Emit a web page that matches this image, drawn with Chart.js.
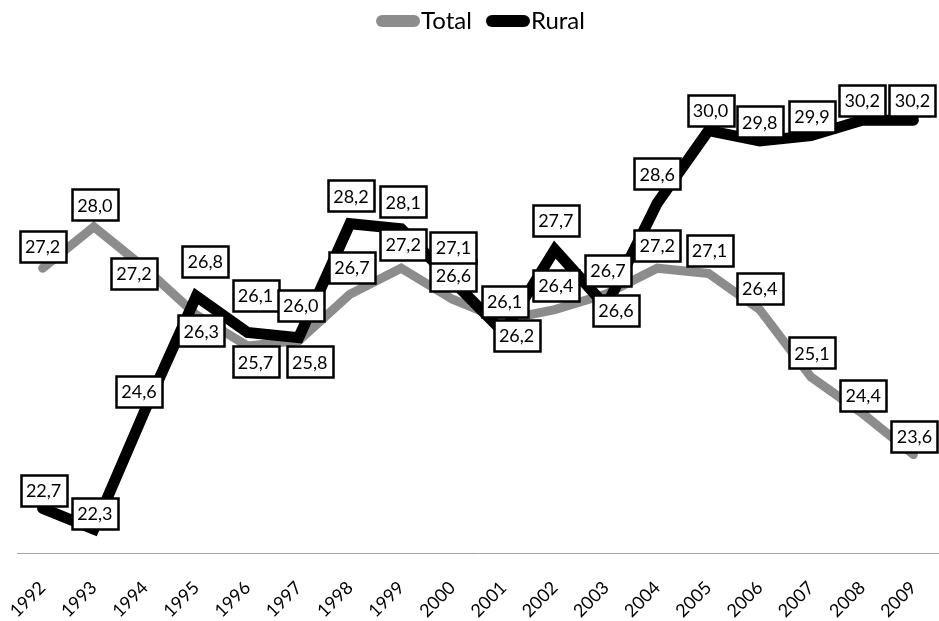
<!DOCTYPE html>
<html>
<head>
<meta charset="utf-8">
<script src="https://cdn.jsdelivr.net/npm/chart.js@4.4.1/dist/chart.umd.min.js"></script>
<style>
html,body{margin:0;padding:0;background:#ffffff;}
#wrap{width:939px;height:621px;position:relative;}
canvas{display:block;}
</style>
</head>
<body>
<div id="wrap"><canvas id="c" width="939" height="621"></canvas></div>
<script>
// ---- data ----
const years = ['1992','1993','1994','1995','1996','1997','1998','1999','2000','2001','2002','2003','2004','2005','2006','2007','2008','2009'];
const seriesNames = ['Total', 'Rural'];
const totalValues = [27.2, 28.0, 27.2, 26.3, 25.7, 25.8, 26.7, 27.2, 26.6, 26.2, 26.4, 26.7, 27.2, 27.1, 26.4, 25.1, 24.4, 23.6];
const ruralValues = [22.7, 22.3, 24.6, 26.8, 26.1, 26.0, 28.2, 28.1, 27.1, 26.1, 27.7, 26.6, 28.6, 30.0, 29.8, 29.9, 30.2, 30.2];

// ---- label placement (pixel offsets of each label box centre from its point) ----
const totalLabelOffsets = [[0,-22],[1,-22],[-11,5],[5,16],[8,16],[11,21],[2,-27],[2,-24],[1,-24],[13,15],[1,-24],[2,-24],[0,-23],[1,-23],[0,-21],[1,-24],[1,-18],[1,-18]];
const ruralLabelOffsets = [[1,-18],[1,-16],[-6,-19],[9,-35],[8,-37],[2,-32],[1,-28],[2,-27],[1,-33],[1,-31],[1,-29],[10,4],[0,-29],[2,-20],[0,-19],[1,-19],[0,-20],[-1,-20]];

const GRAY = '#8c8c8c';
const BLACK = '#000000';
const FONT = 'Lato';

function legendMarker(color) {
  const cv = document.createElement('canvas');
  cv.width = 60; cv.height = 14;
  const g = cv.getContext('2d');
  g.strokeStyle = color;
  g.lineWidth = 12;
  g.lineCap = 'round';
  g.beginPath();
  g.moveTo(16 + 6, 7);
  g.lineTo(60 - 6, 7);
  g.stroke();
  return cv;
}
const markers = [legendMarker(GRAY), legendMarker(BLACK)];

const labelPlugin = {
  id: 'boxLabels',
  afterDatasetsDraw(chart) {
    const ctx = chart.ctx;
    const offsetsByDataset = [totalLabelOffsets, ruralLabelOffsets];
    ctx.save();
    ctx.font = '18px ' + FONT;
    ctx.textAlign = 'center';
    ctx.textBaseline = 'middle';
    chart.data.datasets.forEach((ds, di) => {
      const meta = chart.getDatasetMeta(di);
      const offs = offsetsByDataset[di];
      meta.data.forEach((pt, i) => {
        const txt = ds.data[i].toFixed(1).replace('.', ',');
        const tw = ctx.measureText(txt).width;
        const w = Math.round(tw + 11);
        const h = 31;
        const cx = pt.x + offs[i][0];
        const cy = pt.y + offs[i][1];
        const x0 = Math.round(cx - w / 2) + 0.5;
        const y0 = Math.round(cy - h / 2) + 0.5;
        ctx.fillStyle = '#ffffff';
        ctx.fillRect(x0, y0, w, h);
        ctx.lineWidth = 2.5;
        ctx.strokeStyle = '#000000';
        ctx.strokeRect(x0, y0, w, h);
        ctx.fillStyle = '#000000';
        ctx.fillText(txt, cx, cy + 1);
      });
    });
    ctx.restore();
  }
};

new Chart(document.getElementById('c'), {
  type: 'line',
  data: {
    labels: years,
    datasets: [
      {
        label: seriesNames[0],
        data: totalValues,
        yAxisID: 'yT',
        borderColor: GRAY,
        backgroundColor: GRAY,
        borderWidth: 9,
        borderCapStyle: 'round',
        borderJoinStyle: 'miter',
        pointRadius: 0,
        pointHoverRadius: 0,
        tension: 0,
        order: 1
      },
      {
        label: seriesNames[1],
        data: ruralValues,
        yAxisID: 'yR',
        borderColor: BLACK,
        backgroundColor: BLACK,
        borderWidth: 11,
        borderCapStyle: 'round',
        borderJoinStyle: 'miter',
        pointRadius: 0,
        pointHoverRadius: 0,
        tension: 0,
        order: 0
      }
    ]
  },
  options: {
    responsive: false,
    animation: false,
    events: [],
    devicePixelRatio: 1,
    layout: { padding: { left: 17, right: 0, top: 0, bottom: 0 } },
    plugins: {
      tooltip: { enabled: false },
      legend: {
        display: true,
        position: 'top',
        align: 'center',
        labels: {
          usePointStyle: true,
          pointStyleWidth: 38,
          padding: 9,
          color: '#000000',
          font: { family: FONT, size: 24 },
          sort: (a, b) => a.datasetIndex - b.datasetIndex,
          generateLabels(chart) {
            const items = Chart.defaults.plugins.legend.labels.generateLabels(chart);
            items.forEach((it) => { it.pointStyle = markers[it.datasetIndex]; });
            return items;
          }
        }
      }
    },
    scales: {
      x: {
        type: 'category',
        offset: true,
        grid: { display: false, drawTicks: false },
        border: { display: true, color: '#a6a6a6', width: 1 },
        ticks: {
          minRotation: 45,
          maxRotation: 45,
          autoSkip: false,
          color: '#000000',
          padding: 24,
          font: { family: FONT, size: 18 }
        },
        afterFit(scale) { scale.height = 68; scale.paddingLeft = 0; scale.paddingRight = 0; }
      },
      yT: { type: 'linear', display: false, min: 21.70, max: 31.55 },
      yR: { type: 'linear', display: false, min: 21.84, max: 31.69 }
    }
  },
  plugins: [labelPlugin]
});
</script>
</body>
</html>
